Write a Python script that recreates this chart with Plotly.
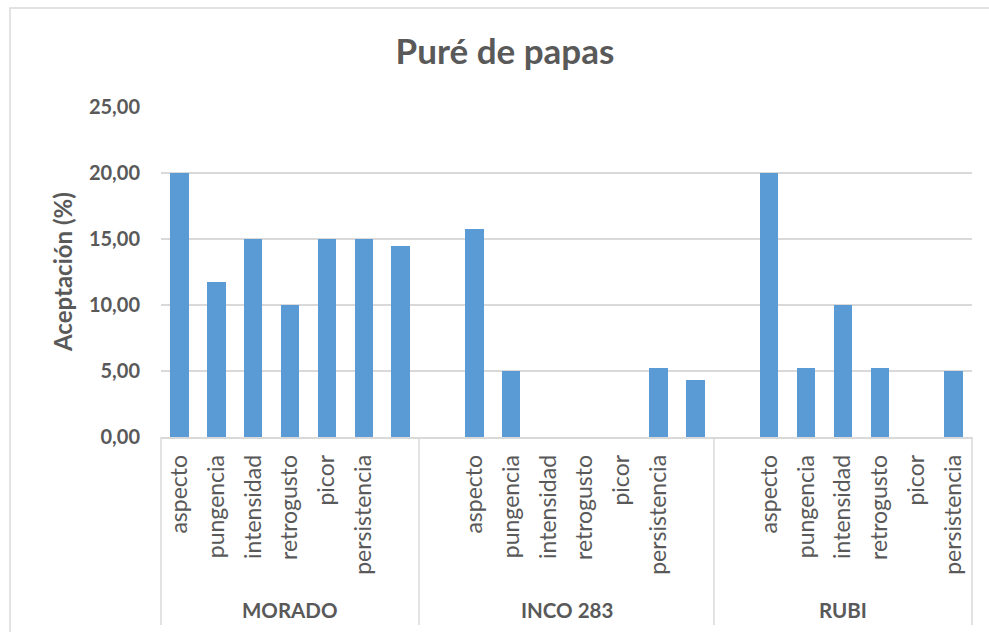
import plotly.graph_objects as go

# Acceptance (%) per sensory attribute, grouped by potato variety
groups = ["MORADO", "INCO 283", "RUBI"]

morado_attr = ["aspecto", "pungencia", "intensidad", "retrogusto", "picor", "persistencia", ""]
morado_vals = [20.00, 11.76, 15.00, 10.00, 15.00, 15.00, 14.47]

inco_attr = ["", "aspecto", "pungencia", "intensidad", "retrogusto", "picor", "persistencia", ""]
inco_vals = [None, 15.79, 5.00, 0.00, 0.00, 0.00, 5.26, 4.32]

rubi_attr = ["", "aspecto", "pungencia", "intensidad", "retrogusto", "picor", "persistencia"]
rubi_vals = [None, 20.00, 5.26, 10.00, 5.26, 0.00, 5.00]

y_ticks = [0, 5, 10, 15, 20, 25]

attr_lists = [morado_attr, inco_attr, rubi_attr]
val_lists = [morado_vals, inco_vals, rubi_vals]

# Flatten into one sequence of slots; remember where each group starts/ends
labels, values, bounds = [], [], [-0.5]
for attrs, vals in zip(attr_lists, val_lists):
    labels += attrs
    values += vals
    bounds.append(len(labels) - 0.5)
positions = list(range(len(labels)))

FONT = "Lato"
GREY = "#595959"
LINE = "#d9d9d9"
BAR = "#5b9bd5"

W, H = 989, 632
ML, MR, MT, MB = 161, 17, 107, 195
plot_w = W - ML - MR
plot_h = H - MT - MB

fig = go.Figure(
    go.Bar(
        x=positions,
        y=values,
        width=0.5,
        marker=dict(color=BAR, line=dict(width=0)),
        hoverinfo="skip",
    )
)

x_lo, x_hi = -0.5, len(labels) - 0.5


def xpaper(v):
    return (v - x_lo) / (x_hi - x_lo)


def ypix(py):
    return (H - MB - py) / plot_h


shapes = []
# group dividers below the axis
for b in bounds:
    shapes.append(dict(
        type="line", xref="paper", yref="paper",
        x0=xpaper(b), x1=xpaper(b), y0=0, y1=ypix(625),
        line=dict(color=LINE, width=1.5),
    ))
# chart area frame
shapes.append(dict(
    type="rect", xref="paper", yref="paper",
    x0=(10 - ML) / plot_w, x1=(W + 20 - ML) / plot_w,
    y0=ypix(H + 20), y1=ypix(8),
    line=dict(color=LINE, width=1.5), fillcolor="rgba(0,0,0,0)", layer="below",
))

annotations = []
for g, lo, hi in zip(groups, bounds[:-1], bounds[1:]):
    annotations.append(dict(
        text=g, xref="x", yref="paper", x=(lo + hi) / 2, y=ypix(610),
        xanchor="center", yanchor="middle", showarrow=False,
        font=dict(family=FONT, size=20.5, color=GREY, weight="bold"),
    ))
annotations.append(dict(
    text="Aceptación (%)", xref="paper", yref="paper",
    x=(62 - ML) / plot_w, y=0.5, textangle=-90,
    xanchor="center", yanchor="middle", showarrow=False,
    font=dict(family=FONT, size=24, color=GREY, weight="bold"),
))

fig.update_layout(
    width=W, height=H,
    margin=dict(l=ML, r=MR, t=MT, b=MB, autoexpand=False),
    paper_bgcolor="white", plot_bgcolor="white",
    separators=",.",
    showlegend=False,
    bargap=0,
    title=dict(
        text="<b>Puré de papas</b>",
        x=505 / W, xref="container", xanchor="center",
        y=1 - 52 / H, yref="container", yanchor="middle",
        font=dict(family=FONT, size=35, color=GREY),
    ),
    xaxis=dict(
        range=[x_lo, x_hi],
        tickmode="array", tickvals=positions, ticktext=labels,
        tickangle=-90, ticks="",
        ticklabelstandoff=7,
        tickfont=dict(family=FONT, size=23, color=GREY),
        showgrid=False, zeroline=False,
        showline=True, linecolor=LINE, linewidth=1.5,
        automargin=False, fixedrange=True,
    ),
    yaxis=dict(
        range=[0, 25],
        tickmode="array", tickvals=y_ticks, tickformat=".2f",
        ticks="", ticklabelstandoff=20,
        tickfont=dict(family=FONT, size=20, color=GREY, weight="bold"),
        showgrid=True, gridcolor=LINE, gridwidth=1.5,
        zeroline=False, showline=False,
        automargin=False, fixedrange=True,
    ),
    shapes=shapes,
    annotations=annotations,
)

fig.write_html("out.html")
